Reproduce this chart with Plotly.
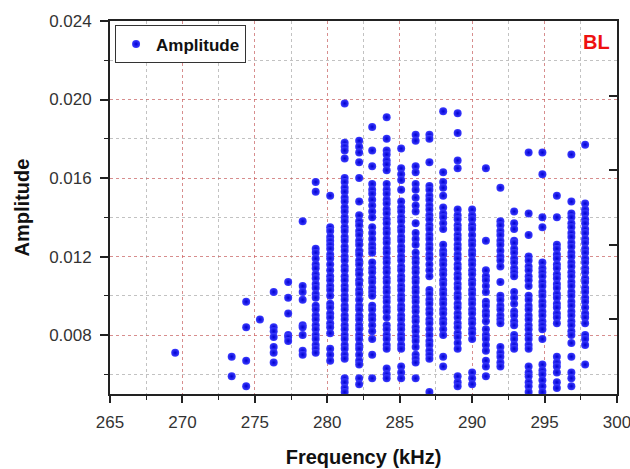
import plotly.graph_objects as go

# Column frequencies (kHz)
freq_columns = [269.5, 273.4, 274.4, 275.35, 276.3, 277.3, 278.3, 279.2, 280.2,
                281.2, 282.2, 283.1, 284.1, 285.1, 286.1, 287.05, 288.0, 289.0,
                290.0, 290.95, 291.95, 292.9, 293.9, 294.85, 295.85, 296.85, 297.8]

# Amplitude values in each column
amp_columns = [
    [0.0071],
    [0.0069, 0.0059],
    [0.0097, 0.0084, 0.0067, 0.0054],
    [0.0088],
    [0.0102, 0.0084, 0.0082, 0.0079, 0.0074, 0.0071, 0.0066],
    [0.0107, 0.0099, 0.0091, 0.0080, 0.0079, 0.0077],
    [0.0138, 0.0105, 0.0102, 0.0098, 0.0085, 0.0084, 0.0080, 0.0072, 0.0070],
    [0.0158, 0.0153, 0.0124, 0.0122, 0.0119, 0.0116, 0.0114, 0.0111, 0.0109, 0.0106,
     0.0104, 0.0101, 0.0099, 0.0095, 0.0093, 0.0090, 0.0088, 0.0085, 0.0083, 0.0080,
     0.0078, 0.0075, 0.0073, 0.0071],
    [0.0151, 0.0135, 0.0133, 0.0130, 0.0128, 0.0126, 0.0124, 0.0121, 0.0119, 0.0116,
     0.0113, 0.0110, 0.0108, 0.0105, 0.0103, 0.0100, 0.0096, 0.0094, 0.0091, 0.0089,
     0.0086, 0.0084, 0.0081, 0.0073, 0.0070, 0.0067],
    [0.0198, 0.0178, 0.0176, 0.0174, 0.0170, 0.0160, 0.0158, 0.0155, 0.0153, 0.0150,
     0.0148, 0.0145, 0.0143, 0.0140, 0.0138, 0.0135, 0.0133, 0.0130, 0.0128, 0.0125,
     0.0123, 0.0120, 0.0118, 0.0115, 0.0113, 0.0110, 0.0108, 0.0105, 0.0103, 0.0100,
     0.0098, 0.0095, 0.0093, 0.0090, 0.0088, 0.0085, 0.0083, 0.0080, 0.0078, 0.0075,
     0.0073, 0.0070, 0.0068, 0.0058, 0.0056, 0.0053, 0.0051],
    [0.0179, 0.0176, 0.0173, 0.0168, 0.0160, 0.0148, 0.0141, 0.0138, 0.0136, 0.0133,
     0.0131, 0.0128, 0.0126, 0.0123, 0.0121, 0.0118, 0.0116, 0.0113, 0.0111, 0.0108,
     0.0106, 0.0103, 0.0101, 0.0098, 0.0095, 0.0093, 0.0090, 0.0088, 0.0085, 0.0083,
     0.0080, 0.0078, 0.0075, 0.0073, 0.0070, 0.0067, 0.0065, 0.0058, 0.0055],
    [0.0186, 0.0174, 0.0166, 0.0157, 0.0154, 0.0152, 0.0149, 0.0146, 0.0143, 0.0140,
     0.0135, 0.0132, 0.0129, 0.0126, 0.0124, 0.0122, 0.0117, 0.0114, 0.0112, 0.0109,
     0.0107, 0.0104, 0.0102, 0.0100, 0.0095, 0.0093, 0.0090, 0.0088, 0.0085, 0.0082,
     0.0078, 0.0070, 0.0058],
    [0.0191, 0.0180, 0.0174, 0.0172, 0.0169, 0.0167, 0.0164, 0.0157, 0.0154, 0.0152,
     0.0149, 0.0147, 0.0144, 0.0142, 0.0139, 0.0137, 0.0134, 0.0132, 0.0129, 0.0127,
     0.0124, 0.0122, 0.0119, 0.0117, 0.0114, 0.0112, 0.0109, 0.0107, 0.0104, 0.0102,
     0.0099, 0.0097, 0.0094, 0.0092, 0.0089, 0.0085, 0.0083, 0.0080, 0.0078, 0.0075,
     0.0073, 0.0063, 0.0060, 0.0058],
    [0.0175, 0.0165, 0.0162, 0.0159, 0.0154, 0.0148, 0.0145, 0.0143, 0.0140, 0.0138,
     0.0135, 0.0133, 0.0130, 0.0128, 0.0125, 0.0123, 0.0120, 0.0118, 0.0115, 0.0113,
     0.0110, 0.0108, 0.0105, 0.0103, 0.0100, 0.0098, 0.0095, 0.0093, 0.0090, 0.0088,
     0.0085, 0.0083, 0.0080, 0.0078, 0.0075, 0.0073, 0.0064, 0.0061, 0.0058],
    [0.0182, 0.0179, 0.0166, 0.0163, 0.0157, 0.0154, 0.0150, 0.0146, 0.0143, 0.0137,
     0.0132, 0.0129, 0.0126, 0.0122, 0.0119, 0.0117, 0.0114, 0.0112, 0.0109, 0.0107,
     0.0104, 0.0102, 0.0099, 0.0097, 0.0094, 0.0092, 0.0089, 0.0087, 0.0084, 0.0082,
     0.0079, 0.0077, 0.0074, 0.0070, 0.0068, 0.0066, 0.0058],
    [0.0182, 0.0180, 0.0168, 0.0156, 0.0154, 0.0151, 0.0149, 0.0146, 0.0144, 0.0141,
     0.0139, 0.0136, 0.0134, 0.0131, 0.0129, 0.0126, 0.0124, 0.0121, 0.0119, 0.0116,
     0.0113, 0.0110, 0.0103, 0.0101, 0.0098, 0.0096, 0.0093, 0.0091, 0.0088, 0.0086,
     0.0083, 0.0080, 0.0077, 0.0075, 0.0072, 0.0070, 0.0068, 0.0051],
    [0.0194, 0.0163, 0.0158, 0.0155, 0.0151, 0.0145, 0.0142, 0.0140, 0.0137, 0.0134,
     0.0126, 0.0123, 0.0121, 0.0118, 0.0116, 0.0113, 0.0111, 0.0108, 0.0106, 0.0103,
     0.0101, 0.0098, 0.0096, 0.0093, 0.0091, 0.0088, 0.0086, 0.0083, 0.0080, 0.0069,
     0.0064],
    [0.0193, 0.0183, 0.0169, 0.0165, 0.0144, 0.0141, 0.0139, 0.0136, 0.0134, 0.0131,
     0.0129, 0.0126, 0.0124, 0.0121, 0.0119, 0.0116, 0.0114, 0.0111, 0.0109, 0.0106,
     0.0104, 0.0101, 0.0099, 0.0096, 0.0094, 0.0091, 0.0089, 0.0086, 0.0084, 0.0081,
     0.0079, 0.0076, 0.0073, 0.0059, 0.0056, 0.0054],
    [0.0144, 0.0141, 0.0139, 0.0136, 0.0134, 0.0131, 0.0128, 0.0126, 0.0123, 0.0121,
     0.0118, 0.0116, 0.0113, 0.0111, 0.0108, 0.0106, 0.0103, 0.0101, 0.0098, 0.0096,
     0.0093, 0.0091, 0.0088, 0.0086, 0.0083, 0.0081, 0.0078, 0.0061, 0.0058, 0.0055],
    [0.0165, 0.0128, 0.0113, 0.0110, 0.0108, 0.0105, 0.0102, 0.0097, 0.0095, 0.0092,
     0.0090, 0.0087, 0.0083, 0.0080, 0.0078, 0.0075, 0.0072, 0.0067, 0.0064, 0.0059],
    [0.0155, 0.0138, 0.0136, 0.0133, 0.0131, 0.0128, 0.0126, 0.0123, 0.0120, 0.0118,
     0.0115, 0.0107, 0.0100, 0.0098, 0.0095, 0.0093, 0.0090, 0.0088, 0.0086, 0.0074,
     0.0071, 0.0069, 0.0066, 0.0064],
    [0.0143, 0.0137, 0.0134, 0.0128, 0.0127, 0.0124, 0.0122, 0.0119, 0.0117, 0.0114,
     0.0112, 0.0110, 0.0102, 0.0099, 0.0096, 0.0092, 0.0090, 0.0087, 0.0085, 0.0080,
     0.0078, 0.0075, 0.0073],
    [0.0173, 0.0142, 0.0131, 0.0120, 0.0118, 0.0115, 0.0113, 0.0110, 0.0108, 0.0105,
     0.0100, 0.0098, 0.0095, 0.0093, 0.0090, 0.0088, 0.0085, 0.0083, 0.0080, 0.0078,
     0.0075, 0.0073, 0.0064, 0.0061, 0.0059, 0.0056, 0.0054, 0.0051],
    [0.0173, 0.0162, 0.0140, 0.0135, 0.0117, 0.0114, 0.0112, 0.0110, 0.0107, 0.0105,
     0.0102, 0.0100, 0.0097, 0.0095, 0.0092, 0.0090, 0.0087, 0.0085, 0.0083, 0.0078,
     0.0065, 0.0062, 0.0060, 0.0057, 0.0054, 0.0051],
    [0.0151, 0.0140, 0.0126, 0.0124, 0.0121, 0.0119, 0.0116, 0.0114, 0.0111, 0.0109,
     0.0106, 0.0104, 0.0101, 0.0099, 0.0096, 0.0094, 0.0091, 0.0089, 0.0086, 0.0069,
     0.0066, 0.0064, 0.0061, 0.0056, 0.0053],
    [0.0172, 0.0148, 0.0142, 0.0140, 0.0137, 0.0135, 0.0132, 0.0130, 0.0127, 0.0125,
     0.0122, 0.0120, 0.0117, 0.0115, 0.0112, 0.0110, 0.0107, 0.0105, 0.0102, 0.0100,
     0.0097, 0.0095, 0.0092, 0.0090, 0.0087, 0.0085, 0.0082, 0.0080, 0.0076, 0.0069,
     0.0061, 0.0058, 0.0054],
    [0.0177, 0.0147, 0.0144, 0.0142, 0.0139, 0.0137, 0.0134, 0.0132, 0.0129, 0.0127,
     0.0124, 0.0122, 0.0119, 0.0117, 0.0114, 0.0112, 0.0109, 0.0107, 0.0104, 0.0102,
     0.0099, 0.0097, 0.0094, 0.0091, 0.0089, 0.0086, 0.0080, 0.0078, 0.0075, 0.0065],
]

x_ticks = [265, 270, 275, 280, 285, 290, 295, 300]
y_ticks = [0.008, 0.012, 0.016, 0.020, 0.024]
y_tick_text = ["0.008", "0.012", "0.016", "0.020", "0.024"]
right_ticks = [0.0088, 0.0126, 0.0164, 0.0202]

xs, ys = [], []
for f, col in zip(freq_columns, amp_columns):
    for a in col:
        xs.append(f)
        ys.append(a)

FONT = "Arial, 'Liberation Sans', sans-serif"
RED_GRID = "rgba(235,90,90,0.5)"
GRAY_GRID = "rgba(120,120,120,0.45)"

fig = go.Figure()
fig.add_trace(go.Scatter(
    x=xs, y=ys, mode="markers", name="Amplitude",
    marker=dict(size=8, color="rgb(60,60,255)",
                gradient=dict(type="radial", color="rgb(0,0,210)"),
                line=dict(width=0)),
))
# empty trace so that the right-hand tick axis is drawn
fig.add_trace(go.Scatter(x=[], y=[], yaxis="y2", showlegend=False,
                         mode="markers", hoverinfo="skip"))

fig.update_layout(
    width=630, height=469,
    margin=dict(l=110, r=13, t=21, b=75),
    paper_bgcolor="white", plot_bgcolor="white",
    font=dict(family=FONT, color="#222"),
    showlegend=True,
    legend=dict(x=0.01, y=0.988, xanchor="left", yanchor="top",
                bordercolor="#333", borderwidth=1, bgcolor="white",
                font=dict(size=17, family=FONT, color="#111", weight="bold"),
                itemsizing="trace", tracegroupgap=0),
    xaxis=dict(
        range=[265, 300], tickvals=x_ticks, automargin=False,
        ticks="outside", ticklen=7, tickwidth=1.5, tickcolor="#222",
        showline=True, linecolor="#222", linewidth=1.8, mirror=True,
        showgrid=True, gridcolor=RED_GRID, griddash="dot", gridwidth=1,
        zeroline=False, ticklabelstandoff=5, ticklabeloverflow="allow",
        tickfont=dict(size=17, color="#333"),
        minor=dict(dtick=2.5, tick0=265, ticks="outside", ticklen=4, tickwidth=1.2,
                   tickcolor="#222", showgrid=True, gridcolor=GRAY_GRID, griddash="dot"),
        title=dict(text="Frequency (kHz)", standoff=19,
                   font=dict(size=20, color="#111", weight="bold")),
    ),
    yaxis=dict(
        range=[0.005, 0.024], tickvals=y_ticks, ticktext=y_tick_text, automargin=False,
        ticks="outside", ticklen=8, tickwidth=1.5, tickcolor="#222",
        showline=True, linecolor="#222", linewidth=1.8, mirror=True,
        showgrid=True, gridcolor=RED_GRID, griddash="dot", gridwidth=1,
        zeroline=False, ticklabelstandoff=5,
        tickfont=dict(size=17, color="#333"),
        minor=dict(dtick=0.002, tick0=0.004, ticks="outside", ticklen=4, tickwidth=1.2,
                   tickcolor="#222", showgrid=True, gridcolor=GRAY_GRID, griddash="dot"),
        title=dict(text="Amplitude", standoff=14,
                   font=dict(size=20, color="#111", weight="bold")),
    ),
    yaxis2=dict(
        overlaying="y", side="right", range=[0.005, 0.024], automargin=False,
        tickvals=right_ticks, ticks="inside", ticklen=8, tickwidth=1.5,
        tickcolor="#222", showticklabels=False, showgrid=False, zeroline=False,
        showline=False,
    ),
    annotations=[dict(text="<b>BL</b>", x=0.99, y=0.945, xref="paper", yref="paper",
                      xanchor="right", yanchor="middle", showarrow=False,
                      font=dict(size=20, color="#ee1111", family=FONT))],
)

fig.write_html("out.html")
